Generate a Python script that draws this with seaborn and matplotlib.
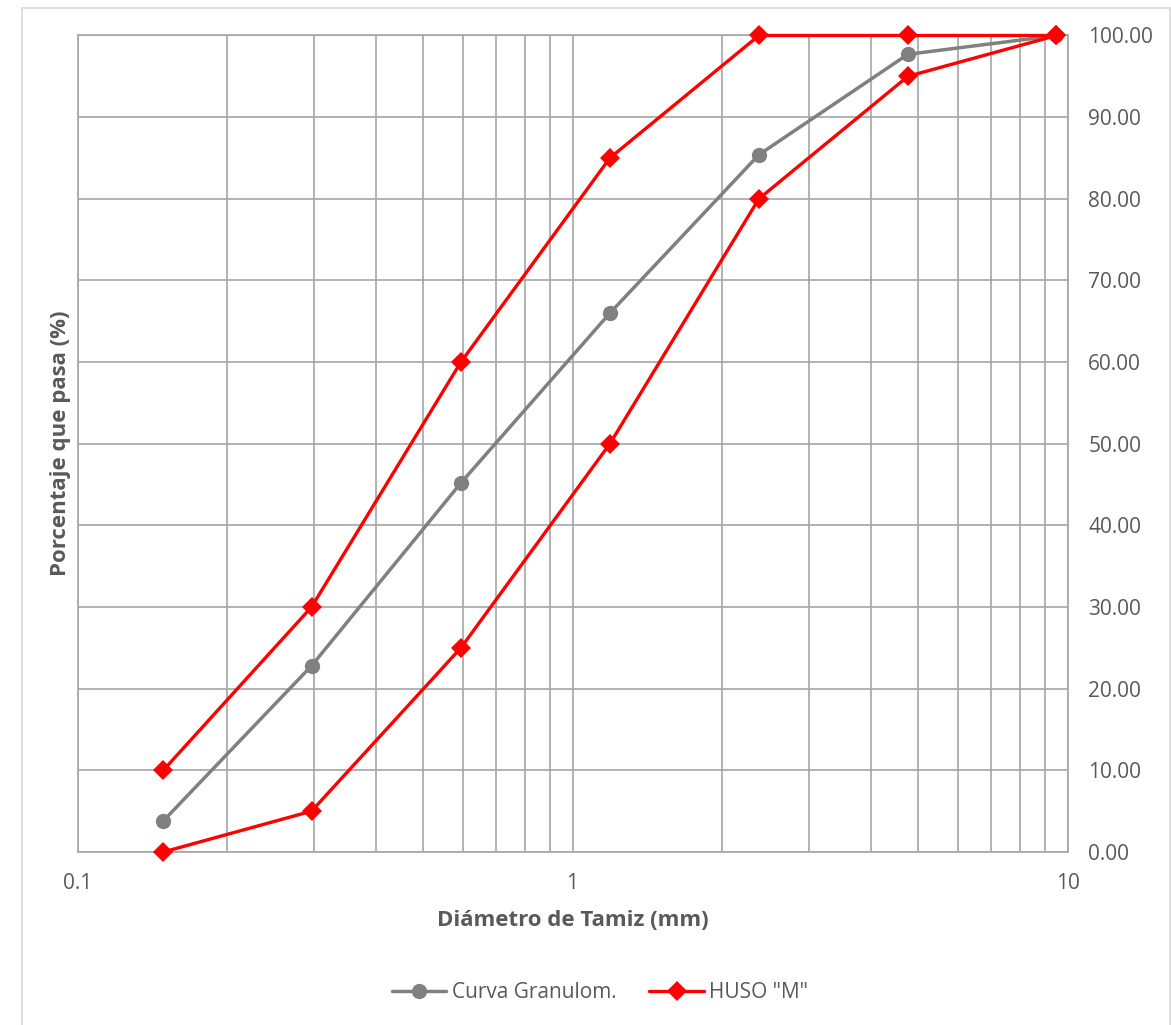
import matplotlib
matplotlib.use("Agg")
import matplotlib.pyplot as plt
import matplotlib.ticker as mticker
from matplotlib.patches import Rectangle
from matplotlib.lines import Line2D
import seaborn as sns
import pandas as pd

# Datos
tamiz_mm = [0.149, 0.297, 0.595, 1.19, 2.38, 4.76, 9.5]
curva_granulom = [3.8, 22.8, 45.2, 66.0, 85.4, 97.7, 100.0]
huso_sup = [10, 30, 60, 85, 100, 100, 100]
huso_inf = [0, 5, 25, 50, 80, 95, 100]
y_ticks = [0, 10, 20, 30, 40, 50, 60, 70, 80, 90, 100]

sns.set_theme(style="white")
plt.rcParams['font.family'] = ['Open Sans', 'DejaVu Sans']

gris_txt = "#595959"
gris_grid = "#a6a6a6"
gris_curva = "#808080"
rojo = "#ff0000"

fig = plt.figure(figsize=(11.71, 10.25), dpi=100)
fig.patches.append(Rectangle((22 / 1171, -0.01), (1170 - 22) / 1171, (1025 - 8) / 1025 + 0.01,
                             transform=fig.transFigure, fill=False, edgecolor="#d9d9d9", lw=1.2))
ax = fig.add_axes([77.5 / 1171, 1 - 852 / 1025, (1067.5 - 77.5) / 1171, (852 - 35.5) / 1025])

df_c = pd.DataFrame({"x": tamiz_mm, "y": curva_granulom})
df_s = pd.DataFrame({"x": tamiz_mm, "y": huso_sup})
df_i = pd.DataFrame({"x": tamiz_mm, "y": huso_inf})

sns.lineplot(data=df_c, x="x", y="y", ax=ax, color=gris_curva, lw=2.5, marker="o",
             markersize=11, markeredgewidth=0, zorder=3)
for d in (df_s, df_i):
    sns.lineplot(data=d, x="x", y="y", ax=ax, color=rojo, lw=2.4, marker="D",
                 markersize=10, markeredgewidth=0, zorder=4, clip_on=False)

ax.set_xscale("log")
ax.set_xlim(0.1, 10)
ax.set_ylim(0, 100)
ax.xaxis.set_major_locator(mticker.FixedLocator([0.1, 1, 10]))
ax.xaxis.set_major_formatter(mticker.FixedFormatter(["0.1", "1", "10"]))
ax.xaxis.set_minor_locator(mticker.LogLocator(base=10, subs=range(2, 10)))
ax.xaxis.set_minor_formatter(mticker.NullFormatter())
ax.set_yticks(y_ticks)
ax.yaxis.set_major_formatter(mticker.FormatStrFormatter("%.2f"))
ax.yaxis.tick_right()
ax.grid(True, which="both", axis="x", color=gris_grid, lw=1.2)
ax.grid(True, which="major", axis="y", color=gris_grid, lw=1.2)
ax.tick_params(axis="both", which="both", length=0, labelsize=15, colors=gris_txt)
ax.tick_params(axis="x", pad=15)
ax.tick_params(axis="y", pad=15)
for s in ax.spines.values():
    s.set_color(gris_grid)
    s.set_linewidth(1.2)

ax.set_xlabel("Diámetro de Tamiz (mm)", fontsize=16, fontweight="bold", color=gris_txt, labelpad=12)
ax.set_ylabel("Porcentaje que pasa (%)", fontsize=16, fontweight="bold", color=gris_txt, labelpad=5)
ax.yaxis.set_label_position("left")

handles = [
    Line2D([], [], color=gris_curva, lw=2.5, marker="o", markersize=11, markeredgewidth=0),
    Line2D([], [], color=rojo, lw=2.4, marker="D", markersize=10, markeredgewidth=0),
]
fig.legend(handles, ["Curva Granulom.", 'HUSO "M"'], loc="center", bbox_to_anchor=(600 / 1171, 1 - 993 / 1025),
           ncol=2, frameon=False, fontsize=15, labelcolor=gris_txt, handlelength=2.6,
           columnspacing=1.6, handletextpad=0.25)

fig.savefig("out.png", dpi=100)
